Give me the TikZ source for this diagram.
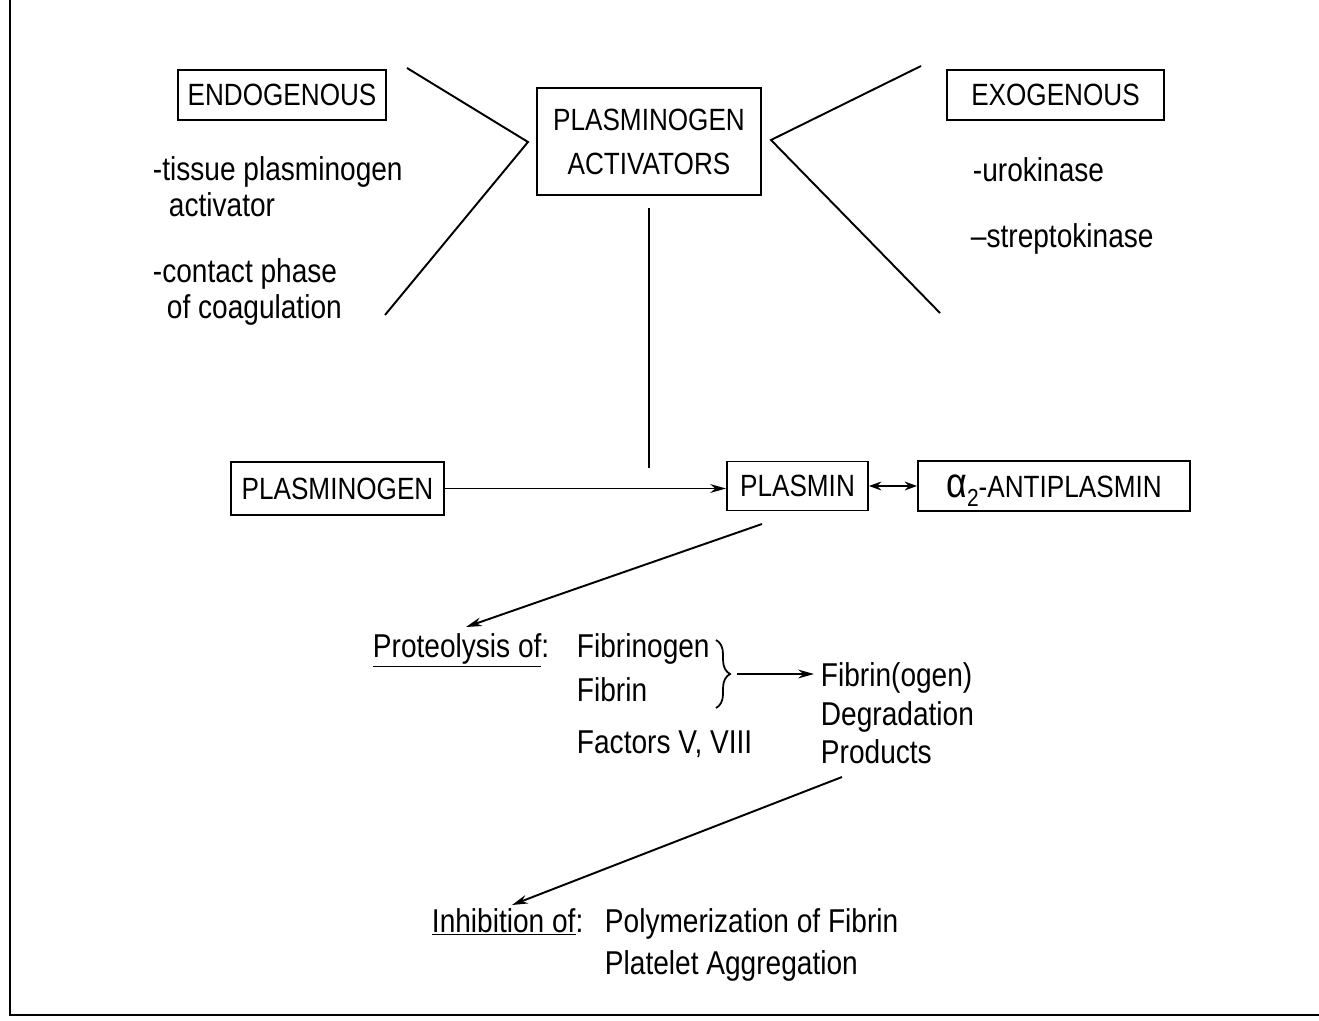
\documentclass[tikz,border=0pt]{standalone}
\usepackage{fontspec}
\setmainfont[FakeStretch=0.85]{Liberation Sans}
\usetikzlibrary{arrows.meta,decorations.pathreplacing}
\begin{document}
\begin{tikzpicture}[x=0.02cm,y=-0.02cm,
  line width=1.1pt,
  box/.style={draw,inner sep=0pt,align=center,font=\fontsize{17.5pt}{25pt}\selectfont},
  txt/.style={inner sep=0pt,anchor=base west,font=\fontsize{18.8pt}{22pt}\selectfont},
  arr/.style={-{Stealth[length=9pt,width=5pt]}},
  darr/.style={{Stealth[length=7pt,width=5pt]}-{Stealth[length=7pt,width=5pt]}}]
\useasboundingbox (0,0) rectangle (1319,1021);
% frame
\coordinate (ftop) at (10,0);
\coordinate (fcorner) at (10,1015);
\coordinate (fright) at (1319,1015);
\draw (ftop) -- (fcorner) -- (fright);
% boxes
\node[box,minimum width=208*0.02cm,minimum height=50*0.02cm] (endo) at (282,95) {ENDOGENOUS};
\node[box,minimum width=224*0.02cm,minimum height=107*0.02cm] (pa) at (649,141.5) {PLASMINOGEN\\ACTIVATORS};
\node[box,minimum width=217*0.02cm,minimum height=50*0.02cm] (exo) at (1055.5,95) {EXOGENOUS};
\node[box,minimum width=213*0.02cm,minimum height=53*0.02cm] (plg) at (337.5,488.5) {PLASMINOGEN};
\node[box,minimum width=141*0.02cm,minimum height=49*0.02cm] (plasmin) at (797.5,486) {PLASMIN};
\node[box,minimum width=272*0.02cm,minimum height=50*0.02cm] (anti) at (1054,486) {{\fontsize{24pt}{25pt}\selectfont α}\raisebox{-0.6ex}[0pt][0pt]{\fontsize{14pt}{15pt}\selectfont 2}-ANTIPLASMIN};
% texts
\node[txt] (t1) at (152,180) {-tissue plasminogen};
\node[txt] (t2) at (168,216) {activator};
\node[txt] (t3) at (152,282) {-contact phase};
\node[txt] (t4) at (166,318) {of coagulation};
\node[txt] (t5) at (972,181) {-urokinase};
\node[txt] (t6) at (970,247) {–streptokinase};
\node[txt] (prot) at (372,657) {\underline{Proteolysis of}:};
\node[txt] (fgen) at (576,657) {Fibrinogen};
\node[txt] (fib) at (576,701) {Fibrin};
\node[txt] (fac) at (576,753) {Factors V, VIII};
\node[txt] (fdp1) at (820,686) {Fibrin(ogen)};
\node[txt] (fdp2) at (820,725) {Degradation};
\node[txt] (fdp3) at (820,763) {Products};
\node[txt] (inh) at (431,932) {\underline{Inhibition of}:};
\node[txt] (pol) at (604,932) {Polymerization of Fibrin};
\node[txt] (plt) at (604,974) {Platelet Aggregation};
% converging lines
\coordinate (lt) at (407,68);
\coordinate (lv) at (528,142);
\coordinate (lb) at (385,315);
\draw (lt) -- (lv) -- (lb);
\coordinate (rt) at (921,66);
\coordinate (rv) at (771,140);
\coordinate (rb) at (940,313);
\draw (rt) -- (rv) -- (rb);
% vertical line
\coordinate (vtop) at (649,208);
\coordinate (vbot) at (649,468);
\draw (vtop) -- (vbot);
% plasminogen -> plasmin
\draw[arr] (plg.east) -- (plg.east -| plasmin.west);
\draw[darr] (plasmin.east) -- (anti.west);
% plasmin -> proteolysis
\coordinate (p1) at (762,524);
\coordinate (p2) at (466,627);
\draw[arr] (p1) -- (p2);
% brace
\coordinate (bt) at (716,640);
\coordinate (bb) at (716,708);
\draw[line width=1pt,decorate,decoration={brace,amplitude=8pt}] (bt) -- (bb);
\coordinate (b1) at (737,674);
\coordinate (b2) at (814,674);
\draw[arr] (b1) -- (b2);
% products -> inhibition
\coordinate (q1) at (842,777);
\coordinate (q2) at (512,905);
\draw[arr] (q1) -- (q2);
\end{tikzpicture}
\end{document}
